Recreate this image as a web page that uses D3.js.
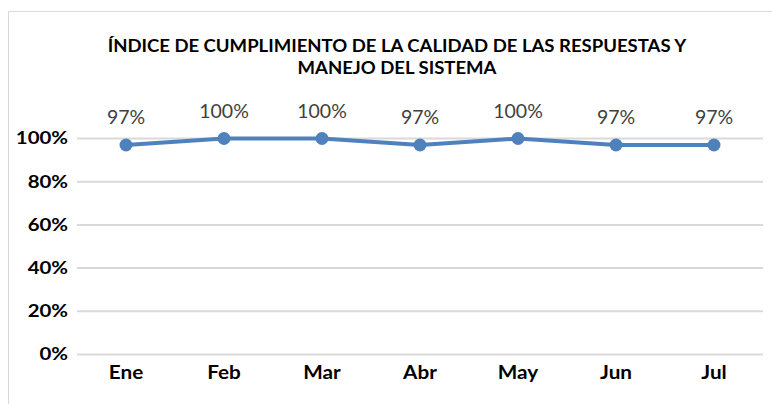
<!DOCTYPE html>
<html>
<head>
<meta charset="utf-8">
<script src="https://cdn.jsdelivr.net/npm/d3@7"></script>
<style>
  body { margin: 0; background: #fff; }
  svg { font-family: Lato, "Open Sans", sans-serif; }
</style>
</head>
<body>
<svg width="772" height="404"></svg>
<script>
// chart values
var months = ["Ene", "Feb", "Mar", "Abr", "May", "Jun", "Jul"];
var indice = [0.97, 1.00, 1.00, 0.97, 1.00, 0.97, 0.97];
var yTicks = [0, 0.2, 0.4, 0.6, 0.8, 1.0];
var titleLines = ["ÍNDICE DE CUMPLIMIENTO DE LA CALIDAD DE LAS RESPUESTAS Y", "MANEJO DEL SISTEMA"];

var svg = d3.select('svg');

// outer chart border (cropped at right and bottom)
svg.append('rect')
  .attr('x', 8.5).attr('y', 11.5)
  .attr('width', 800).attr('height', 420)
  .attr('fill', 'none')
  .attr('stroke', '#d9d9d9')
  .attr('stroke-width', 1);

// title, a bit wider than plain Lato like the original
var titleSx = 1.11;
var title = svg.append('g')
  .attr('transform', 'translate(397,0) scale(' + titleSx + ',1)')
  .append('text')
  .attr('text-anchor', 'middle')
  .attr('font-weight', 'bold')
  .attr('font-size', 16.7)
  .attr('fill', '#000');
titleLines.forEach(function(t, i){
  title.append('tspan').attr('x', 0).attr('y', 52 + i * 22).text(t);
});

var scaleX = d3.scaleBand().domain(months).range([77, 763]);
var scaleY = d3.scaleLinear().domain([0, 1]).range([354.5, 138.5]);

// gridlines
svg.append('g')
  .selectAll('line')
  .data(yTicks)
  .enter()
  .append('line')
  .attr('x1', 77).attr('x2', 763)
  .attr('y1', function(d){ return scaleY(d); })
  .attr('y2', function(d){ return scaleY(d); })
  .attr('stroke', '#d9d9d9')
  .attr('stroke-width', 2);

// y axis labels
var ySx = 1.2;
var yAxis = svg.append('g')
  .attr('transform', 'translate(77,0)')
  .call(d3.axisLeft(scaleY).tickValues(yTicks).tickFormat(d3.format('.0%')).tickSize(0).tickPadding(9));
yAxis.select('.domain').remove();
yAxis.selectAll('text')
  .attr('font-family', 'Lato, sans-serif')
  .attr('font-size', 17)
  .attr('font-weight', 'bold')
  .attr('fill', '#000')
  .attr('x', -9 / ySx)
  .attr('transform', 'scale(' + ySx + ',1)');

// x axis labels
var xSx = 1.15;
var xAxis = svg.append('g')
  .attr('transform', 'translate(0,354.5)')
  .call(d3.axisBottom(scaleX).tickSize(0).tickPadding(12));
xAxis.select('.domain').remove();
xAxis.selectAll('text')
  .attr('font-family', 'Lato, sans-serif')
  .attr('font-size', 18)
  .attr('font-weight', 'bold')
  .attr('fill', '#000')
  .attr('transform', 'scale(' + xSx + ',1)');

var cx = function(d, i){ return scaleX(months[i]) + scaleX.bandwidth() / 2; };

var line = d3.line()
  .x(function(d, i){ return cx(d, i); })
  .y(function(d){ return scaleY(d); });

svg.append('path')
  .datum(indice)
  .attr('d', line)
  .attr('fill', 'none')
  .attr('stroke', '#4f81bd')
  .attr('stroke-width', 4)
  .attr('stroke-linejoin', 'round');

svg.selectAll('.myCircles')
  .data(indice)
  .enter()
  .append('circle')
  .attr('class', 'myCircles')
  .attr('cx', cx)
  .attr('cy', function(d){ return scaleY(d); })
  .attr('r', 6.5)
  .attr('fill', '#4f81bd');

svg.selectAll('.labels')
  .data(indice)
  .enter()
  .append('text')
  .attr('class', 'labels')
  .attr('x', cx)
  .attr('y', function(d){ return scaleY(d) - 21; })
  .attr('text-anchor', 'middle')
  .attr('font-size', 19.5)
  .attr('fill', '#404040')
  .text(function(d){ return d3.format('.0%')(d); });
</script>
</body>
</html>
